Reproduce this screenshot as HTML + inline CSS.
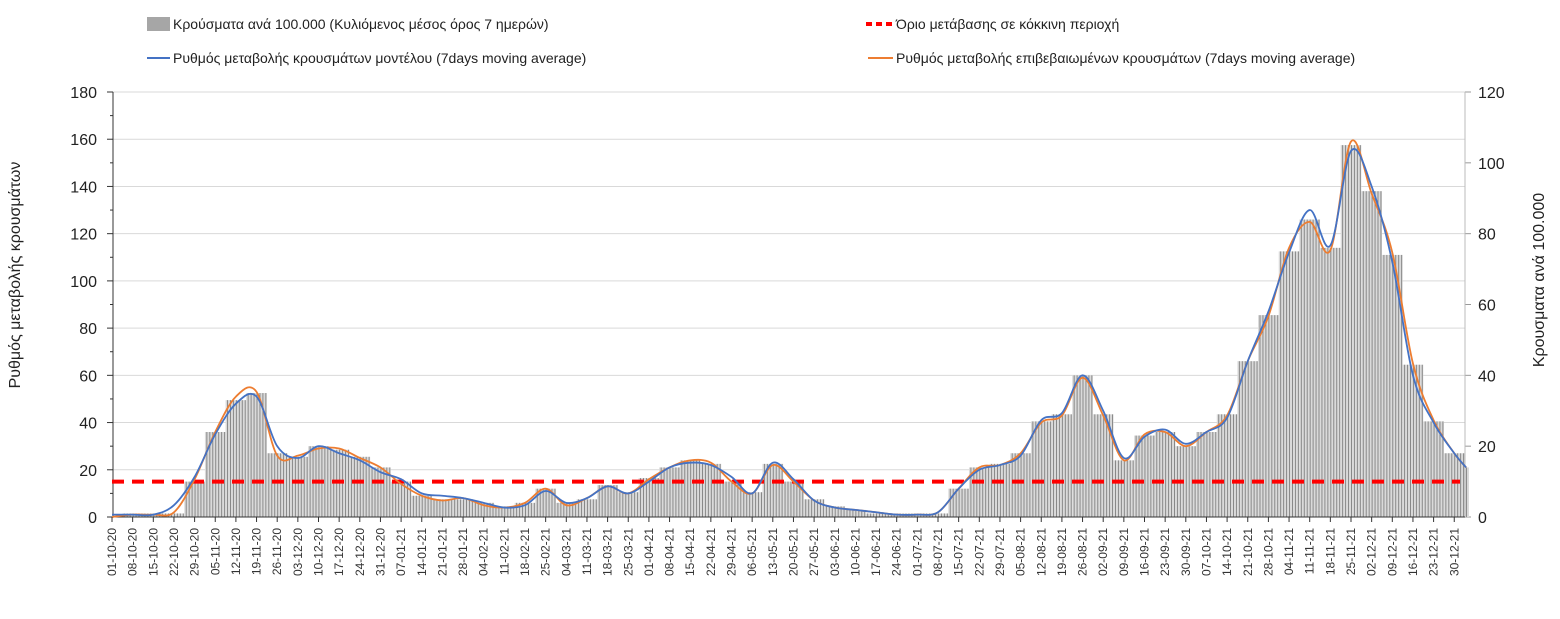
<!DOCTYPE html>
<html><head><meta charset="utf-8"><style>
body{margin:0;background:#fff;font-family:"Liberation Sans",sans-serif}
svg text{font-family:"Liberation Sans","Noto Sans CJK SC",sans-serif}
</style></head><body>
<svg id="c" width="1560" height="614" xmlns="http://www.w3.org/2000/svg">
<defs><pattern id="stripes" x="112" width="2.95" height="10" patternUnits="userSpaceOnUse"><rect width="2.95" height="10" fill="#dadada"/><rect width="0.9" height="10" fill="#808080"/></pattern></defs>
<g>
<rect x="147" y="17" width="23" height="14" fill="#a6a6a6"/>
<text x="173" y="29" font-size="14" fill="#222">Κρούσματα ανά 100.000 (Κυλιόμενος μέσος όρος 7 ημερών)</text>
<line x1="866" y1="24" x2="893" y2="24" stroke="#f00" stroke-width="4" stroke-dasharray="6,4"/>
<text x="896" y="29" font-size="14" fill="#222">Όριο μετάβασης σε κόκκινη περιοχή</text>
<line x1="147" y1="58" x2="170" y2="58" stroke="#4472c4" stroke-width="2"/>
<text x="173" y="63" font-size="14" fill="#222">Ρυθμός μεταβολής κρουσμάτων μοντέλου (7days moving average)</text>
<line x1="868" y1="58" x2="893" y2="58" stroke="#ed7d31" stroke-width="2"/>
<text x="896" y="63" font-size="14" fill="#222">Ρυθμός μεταβολής επιβεβαιωμένων κρουσμάτων (7days moving average)</text>
</g>
<text transform="translate(20,275) rotate(-90)" text-anchor="middle" font-size="16" fill="#222">Ρυθμός μεταβολής κρουσμάτων</text>
<text transform="translate(1544,280) rotate(-90)" text-anchor="middle" font-size="16" fill="#222">Κρουσματα ανά 100.000</text>
<g id="plot"></g>
</svg>
<script>
const weekLabels=["01-10-20","08-10-20","15-10-20","22-10-20","29-10-20","05-11-20","12-11-20","19-11-20","26-11-20","03-12-20","10-12-20","17-12-20","24-12-20","31-12-20","07-01-21","14-01-21","21-01-21","28-01-21","04-02-21","11-02-21","18-02-21","25-02-21","04-03-21","11-03-21","18-03-21","25-03-21","01-04-21","08-04-21","15-04-21","22-04-21","29-04-21","06-05-21","13-05-21","20-05-21","27-05-21","03-06-21","10-06-21","17-06-21","24-06-21","01-07-21","08-07-21","15-07-21","22-07-21","29-07-21","05-08-21","12-08-21","19-08-21","26-08-21","02-09-21","09-09-21","16-09-21","23-09-21","30-09-21","07-10-21","14-10-21","21-10-21","28-10-21","04-11-21","11-11-21","18-11-21","25-11-21","02-12-21","09-12-21","16-12-21","23-12-21","30-12-21"];
// values sampled at each weekly tick (day index = 7*k), plus final point at day 459
const modelRate=[1,1,1,5,17,35,48,51,30,25,30,27,24,19,16,10,9,8,6,4,5,11,6,8,13,10,15,21,23,22,17,10,23,16,7,4,3,2,1,1,2,12,20,22,26,41,44,60,45,25,34,37,31,36,42,66,87,112,130,115,155,140,108,60,40,27,21];
const confirmedRate=[0,1,1,2,16,36,51,53,26,26,29,29,25,21,14,9,7,8,5,4,6,12,5,8,13,10,16,21,24,23,15,10,22,15,7,4,3,2,1,1,2,12,21,22,27,40,43,59,43,24,35,36,30,36,43,66,85,114,125,113,159,137,112,65,41,27,21];
const casesPer100k=[0,1,1,1,10,24,33,35,18,17,20,19,17,14,10,6,5,5,4,3,4,8,4,5,9,7,11,14,16,15,10,7,15,10,5,3,2,1,1,1,1,8,14,15,18,27,29,40,29,16,23,24,20,24,29,44,57,75,84,76,105,92,74,43,27,18,14];
const x0=112,pxDay=2.95,y0=517,yTop=92;
const xS=d=>x0+d*pxDay;
const yL=v=>y0-v*(y0-yTop)/180;
const yR=v=>y0-v*(y0-yTop)/120;
const dayOf=i=>i<weekLabels.length?i*7:459;
const ns="http://www.w3.org/2000/svg";
const plot=document.getElementById('plot');
function mk(tag,attrs,parent){const e=document.createElementNS(ns,tag);for(const k in attrs)e.setAttribute(k,attrs[k]);(parent||plot).appendChild(e);return e;}
for(let v=0;v<=180;v+=20){
  if(v>0){const g=mk('line',{x1:x0,x2:1465,y1:yL(v),y2:yL(v),stroke:'#d9d9d9','stroke-width':1});
  
  }
  const t=mk('text',{x:97,y:yL(v)+6,'text-anchor':'end','font-size':16,fill:'#222'});t.textContent=v;
  
  
  mk('line',{x1:107,x2:113,y1:yL(v),y2:yL(v),stroke:'#333'});
  if(v<180)mk('line',{x1:110,x2:113,y1:yL(v+10),y2:yL(v+10),stroke:'#333'});
}
for(let v=0;v<=120;v+=20){
  const t=mk('text',{x:1478,y:yR(v)+6,'font-size':16,fill:'#222'});t.textContent=v;
  
  
  mk('line',{x1:1465,x2:1471,y1:yR(v),y2:yR(v),stroke:'#999'});
}
// bars: each sampled value covers the week centered on its day
for(let i=0;i<casesPer100k.length;i++){
  const d=dayOf(i);
  const a=Math.max(0,d-3.5),b=Math.min(460,d+3.5);
  const bar=mk('rect',{x:xS(a),y:yR(casesPer100k[i]),width:xS(b)-xS(a),height:y0-yR(casesPer100k[i]),fill:'url(#stripes)'});
  
  
}
mk('line',{x1:113,x2:113,y1:yTop,y2:y0,stroke:'#333'});
mk('line',{x1:1465,x2:1465,y1:yTop,y2:y0,stroke:'#bbb'});
mk('line',{x1:113,x2:1465,y1:y0,y2:y0,stroke:'#333'});
const th=mk('line',{x1:x0,x2:1460,y1:yL(15),y2:yL(15),stroke:'#f00','stroke-width':4,'stroke-dasharray':'12,8'});


function smooth(vals){const p=vals.map((v,i)=>[xS(dayOf(i)),yL(v)]);let d='M'+p[0];
  for(let i=0;i<p.length-1;i++){const a=p[Math.max(0,i-1)],b=p[i],c=p[i+1],e=p[Math.min(p.length-1,i+2)];
   d+=` C${b[0]+(c[0]-a[0])/6},${b[1]+(c[1]-a[1])/6} ${c[0]-(e[0]-b[0])/6},${c[1]-(e[1]-b[1])/6} ${c[0]},${c[1]}`;}return d;}
const lo=mk('path',{d:smooth(confirmedRate),fill:'none',stroke:'#ed7d31','stroke-width':1.8});


const lb=mk('path',{d:smooth(modelRate),fill:'none',stroke:'#4472c4','stroke-width':1.8});


weekLabels.forEach((l,k)=>{const x=xS(k*7);
  mk('line',{x1:x,x2:x,y1:y0,y2:y0+5,stroke:'#333'});
  const t=mk('text',{transform:`translate(${x+4},${528}) rotate(-90)`,'text-anchor':'end','font-size':12,fill:'#333'});t.textContent=l;
  
  
});
</script>
</body></html>
